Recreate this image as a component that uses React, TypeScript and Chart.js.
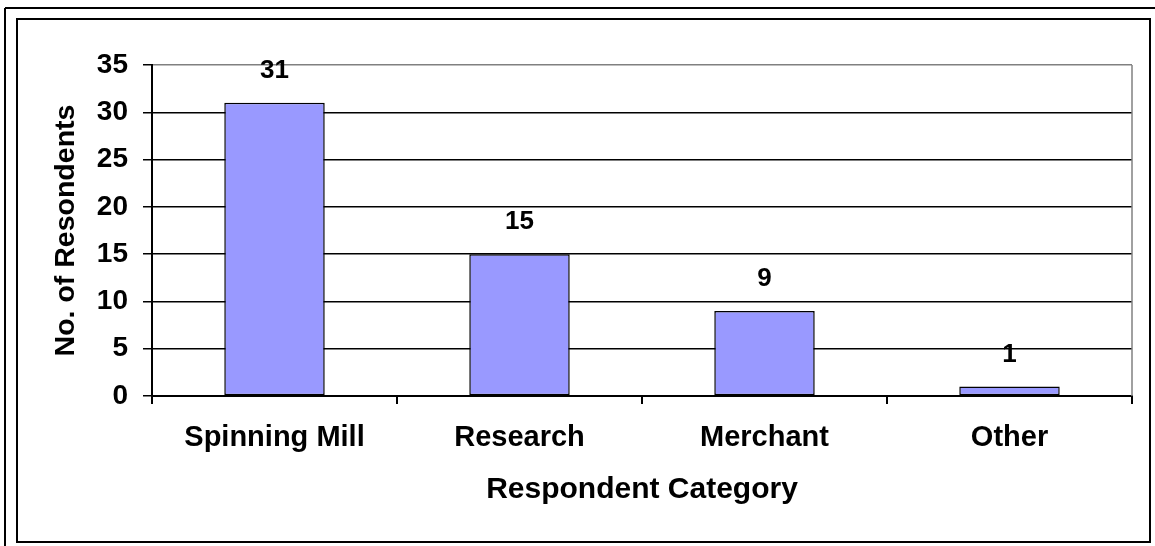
import React, { useEffect, useRef } from "react";
import { Chart, registerables } from "chart.js";

Chart.register(...registerables);

const categories = ["Spinning Mill", "Research", "Merchant", "Other"];
const respondents = [31, 15, 9, 1];
const yTicks = [0, 5, 10, 15, 20, 25, 30, 35];
const xTitle = "Respondent Category";
const yTitle = "No. of Resondents";

const FONT = "'Liberation Sans', Arial, Helvetica, sans-serif";

const framePlugin = {
  id: "frame",
  beforeDraw(chart: any) {
    const { ctx, width, height } = chart;
    ctx.save();
    ctx.fillStyle = "#ffffff";
    ctx.fillRect(0, 0, width, height);
    ctx.strokeStyle = "#000000";
    ctx.lineWidth = 2;
    // outer frame (top & left visible)
    ctx.beginPath();
    ctx.moveTo(5, 8);
    ctx.lineTo(width, 8);
    ctx.moveTo(5, 8);
    ctx.lineTo(5, height);
    ctx.stroke();
    // inner frame
    ctx.strokeRect(17, 19, 1133, 523);
    ctx.restore();
  },
  afterDatasetsDraw(chart: any) {
    const { ctx, chartArea } = chart;
    ctx.save();
    ctx.strokeStyle = "#808080";
    ctx.lineWidth = 1.5;
    ctx.beginPath();
    ctx.moveTo(chartArea.right, chartArea.top);
    ctx.lineTo(chartArea.right, chartArea.bottom);
    ctx.stroke();
    // data labels
    const meta = chart.getDatasetMeta(0);
    ctx.fillStyle = "#000000";
    ctx.font = `bold 26px ${FONT}`;
    ctx.textAlign = "center";
    ctx.textBaseline = "middle";
    meta.data.forEach((bar: any, i: number) => {
      ctx.fillText(String(respondents[i]), bar.x, bar.y - 32);
    });
    ctx.restore();
  },
};

export default function App() {
  const canvasRef = useRef<HTMLCanvasElement | null>(null);

  useEffect(() => {
    if (!canvasRef.current) return;
    const chart = new Chart(canvasRef.current, {
      type: "bar",
      data: {
        labels: categories,
        datasets: [
          {
            data: respondents,
            backgroundColor: "#9999FF",
            borderColor: "#000000",
            borderWidth: 1.5,
            borderSkipped: false,
            barPercentage: 0.41,
            categoryPercentage: 1,
          },
        ],
      },
      plugins: [framePlugin],
      options: {
        responsive: false,
        animation: false,
        devicePixelRatio: 1,
        layout: { padding: { left: 0, top: 65, right: 23, bottom: 0 } },
        plugins: {
          legend: { display: false },
          tooltip: { enabled: false },
        },
        scales: {
          x: {
            grid: {
              offset: true,
              drawOnChartArea: false,
              drawTicks: true,
              tickLength: 8,
              color: "#000000",
              lineWidth: 2,
            },
            border: { display: true, color: "#000000", width: 2 },
            ticks: {
              color: "#000000",
              padding: 17,
              maxRotation: 0,
              font: { family: FONT, size: 29, weight: "bold" },
            },
            title: {
              display: true,
              text: xTitle,
              color: "#000000",
              font: { family: FONT, size: 30, weight: "bold" },
              padding: { top: 0, bottom: 38 },
            },
            afterFit(scale: any) {
              scale.height = 150;
            },
          },
          y: {
            min: 0,
            max: 35,
            afterBuildTicks(scale: any) {
              scale.ticks = yTicks.map((v) => ({ value: v }));
            },
            grid: {
              color: (c: any) => (c.tick && c.tick.value === 35 ? "#808080" : "#000000"),
              tickColor: "#000000",
              lineWidth: 1.5,
              tickLength: 9,
            },
            border: { display: true, color: "#000000", width: 2 },
            ticks: {
              color: "#000000",
              padding: 15,
              font: { family: FONT, size: 28, weight: "bold" },
            },
            title: {
              display: true,
              text: yTitle,
              color: "#000000",
              font: { family: FONT, size: 28.5, weight: "bold" },
              padding: { top: 49, bottom: 0 },
            },
            afterFit(scale: any) {
              scale.width = 152;
            },
          },
        },
      },
    });
    return () => chart.destroy();
  }, []);

  return (
    <div style={{ position: "fixed", left: 0, top: 0, width: 1155, height: 546 }}>
      <canvas ref={canvasRef} width={1155} height={546} style={{ display: "block" }} />
    </div>
  );
}
